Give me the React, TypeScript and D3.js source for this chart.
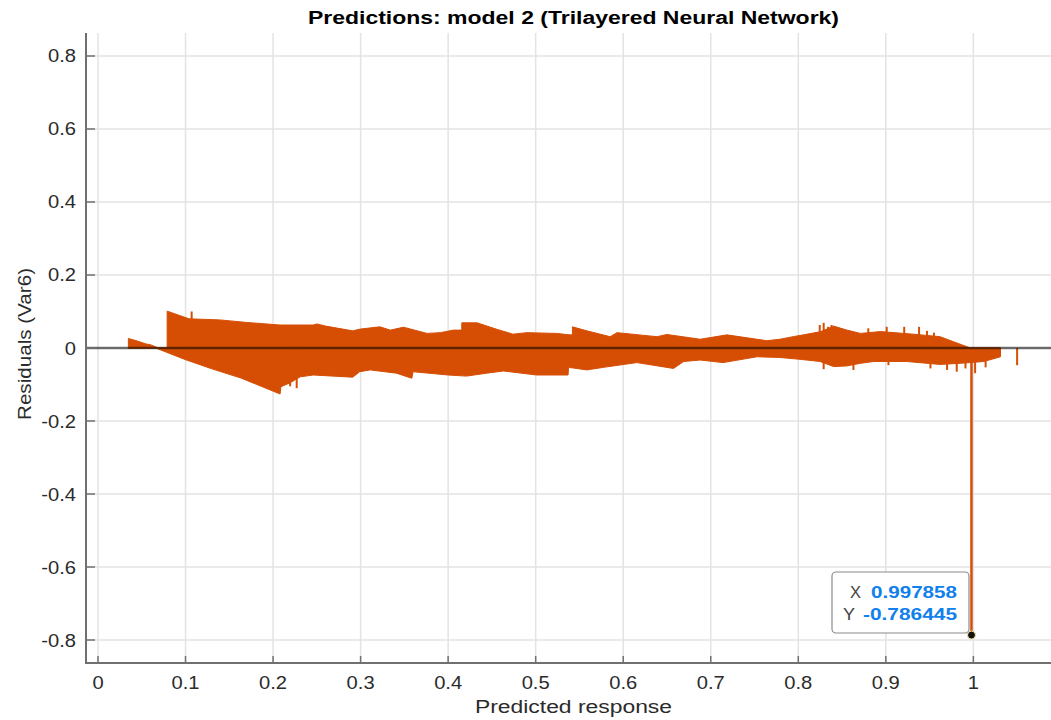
import React from "react";
import * as d3 from "d3";

// ---- data ----
const xTicks = [0, 0.1, 0.2, 0.3, 0.4, 0.5, 0.6, 0.7, 0.8, 0.9, 1];
const yTicks = [-0.8, -0.6, -0.4, -0.2, 0, 0.2, 0.4, 0.6, 0.8];

// upper envelope of positive residual stems: [predicted, residual]
const upperEnvelope: [number, number][] = [
  [0.0347, 0.026], [0.045, 0.019], [0.055, 0.011], [0.06, 0.009], [0.069, 0.0], [0.079, 0.0],
  [0.079, 0.101], [0.104, 0.08], [0.139, 0.077], [0.17, 0.07], [0.208, 0.063], [0.246, 0.063],
  [0.25, 0.066], [0.26, 0.06], [0.291, 0.047], [0.3, 0.052], [0.322, 0.058], [0.334, 0.049],
  [0.349, 0.057], [0.376, 0.04], [0.391, 0.042], [0.406, 0.049], [0.4156, 0.049], [0.4156, 0.069],
  [0.433, 0.069], [0.456, 0.051], [0.474, 0.038], [0.49, 0.042], [0.524, 0.04], [0.539, 0.036],
  [0.542, 0.036], [0.542, 0.058], [0.5585, 0.047], [0.585, 0.031], [0.593, 0.042], [0.6385, 0.031],
  [0.65, 0.037], [0.688, 0.024], [0.7185, 0.036], [0.764, 0.02], [0.779, 0.024], [0.794, 0.031],
  [0.806, 0.036], [0.826, 0.045], [0.8403, 0.06], [0.8556, 0.049], [0.871, 0.04], [0.894, 0.045],
  [0.931, 0.038], [0.962, 0.031], [0.9775, 0.017], [0.9966, 0.0], [1.031, 0.0],
];

// lower envelope of negative residual stems
const lowerEnvelope: [number, number][] = [
  [0.0347, 0], [0.066, 0], [0.1, -0.032], [0.13, -0.057], [0.163, -0.082], [0.208, -0.126],
  [0.209, -0.106], [0.219, -0.096], [0.231, -0.079], [0.246, -0.074], [0.291, -0.08], [0.299, -0.065],
  [0.311, -0.06], [0.341, -0.069], [0.3585, -0.083], [0.36, -0.065], [0.4, -0.074], [0.421, -0.077],
  [0.444, -0.069], [0.463, -0.063], [0.501, -0.074], [0.537, -0.074], [0.5375, -0.053], [0.5585, -0.06],
  [0.5775, -0.053], [0.6156, -0.04], [0.6575, -0.056], [0.669, -0.037], [0.688, -0.033], [0.714, -0.04],
  [0.753, -0.024], [0.779, -0.026], [0.802, -0.031], [0.825, -0.037], [0.8403, -0.051], [0.8556, -0.049],
  [0.871, -0.042], [0.886, -0.037], [0.924, -0.037], [0.962, -0.045], [0.985, -0.042], [1.012, -0.037],
  [1.031, -0.024],
];

// individual stems that stick out of the band
const spikes: [number, number][] = [
  [0.107, 0.1], [0.8245, 0.063], [0.829, 0.069], [0.834, 0.058], [0.838, 0.063], [0.88, 0.054],
  [0.901, 0.058], [0.921, 0.058], [0.938, 0.058], [0.947, 0.047], [0.955, 0.042],
  [0.2195, -0.105], [0.227, -0.11], [0.829, -0.058], [0.863, -0.06], [0.903, -0.047], [0.951, -0.056],
  [0.97, -0.06], [0.981, -0.065], [0.991, -0.056], [1.002, -0.069], [1.014, -0.053], [1.05, -0.047],
];

const outlier: [number, number] = [0.997858, -0.786445];

const title = "Predictions: model 2 (Trilayered Neural Network)";
const xLabel = "Predicted response";
const yLabel = "Residuals (Var6)";

// ---- styles ----
const ORANGE = "#D64E04";
const GRID = "#e3e3e3";
const AXIS = "#707070";
const TEXT = "#2b2b2b";
const FONT = "'Liberation Sans', Arial, Helvetica, sans-serif";

export default function App() {
  const W = 1051;
  const H = 720;
  const left = 86, right = 1051, top = 33, bottom = 663;
  const x = d3.scaleLinear().domain([-0.0137, 1.0887]).range([left, right]);
  const y = d3.scaleLinear().domain([-0.863, 0.863]).range([bottom, top]);

  const area = d3
    .area<[number, number]>()
    .x((d) => x(d[0]))
    .y0(y(0))
    .y1((d) => y(d[1]));

  const fmt = (v: number) => String(Number(v.toFixed(1)));

  return (
    <svg
      width={W}
      height={H}
      style={{ position: "absolute", left: 0, top: 0, background: "#fff" }}
      fontFamily={FONT}
    >
      <defs>
        <clipPath id="plotClip">
          <rect x={left} y={top} width={right - left} height={bottom - top} />
        </clipPath>
      </defs>
      <rect x={0} y={0} width={W} height={H} fill="#fff" />

      {/* grid */}
      {xTicks.map((t) => (
        <line key={"gx" + t} x1={x(t)} x2={x(t)} y1={top} y2={bottom} stroke={GRID} strokeWidth={1.5} />
      ))}
      {yTicks.map((t) => (
        <line key={"gy" + t} x1={left} x2={right} y1={y(t)} y2={y(t)} stroke={GRID} strokeWidth={1.5} />
      ))}

      {/* data */}
      <g clipPath="url(#plotClip)">
        <path d={area(upperEnvelope) || ""} fill={ORANGE} stroke={ORANGE} strokeWidth={1} />
        <path d={area(lowerEnvelope) || ""} fill={ORANGE} stroke={ORANGE} strokeWidth={1} />
        {spikes.map((s, i) => (
          <line key={"s" + i} x1={x(s[0])} x2={x(s[0])} y1={y(0)} y2={y(s[1])} stroke={ORANGE} strokeWidth={2} />
        ))}
        <line x1={x(outlier[0])} x2={x(outlier[0])} y1={y(0)} y2={y(outlier[1])} stroke={ORANGE} strokeWidth={2.5} />
        <line x1={left} x2={right} y1={y(0)} y2={y(0)} stroke="#000" strokeOpacity={0.55} strokeWidth={2.3} />
      </g>

      {/* axes */}
      <line x1={left} x2={left} y1={top} y2={bottom + 1} stroke={AXIS} strokeWidth={2} />
      <line x1={left - 1} x2={right} y1={bottom} y2={bottom} stroke={AXIS} strokeWidth={2} />
      {xTicks.map((t) => (
        <g key={"tx" + t}>
          <line x1={x(t)} x2={x(t)} y1={bottom} y2={bottom - 7} stroke={AXIS} strokeWidth={1.5} />
          <text
            transform={`translate(${x(t)},689) scale(1.12,1)`}
            textAnchor="middle"
            fontSize={18}
            fill={TEXT}
          >
            {fmt(t)}
          </text>
        </g>
      ))}
      {yTicks.map((t) => (
        <g key={"ty" + t}>
          <line x1={left} x2={left + 9} y1={y(t)} y2={y(t)} stroke={AXIS} strokeWidth={1.5} />
          <text
            transform={`translate(76,${y(t) + 6.5}) scale(1.12,1)`}
            textAnchor="end"
            fontSize={18}
            fill={TEXT}
          >
            {fmt(t)}
          </text>
        </g>
      ))}

      {/* labels */}
      <text x={308} y={24} fontSize={18} fontWeight="bold" fill="#000" textLength={531} lengthAdjust="spacingAndGlyphs">
        {title}
      </text>
      <text x={475} y={713} fontSize={18} fill={TEXT} textLength={197} lengthAdjust="spacingAndGlyphs">
        {xLabel}
      </text>
      <text
        transform="translate(31,420) rotate(-90)"
        fontSize={18}
        fill={TEXT}
        textLength={152}
        lengthAdjust="spacingAndGlyphs"
      >
        {yLabel}
      </text>

      {/* data tip */}
      <rect x={832} y={572} width={137} height={61} rx={4} fill="#fff" fillOpacity={0.95} stroke="#8a8a8a" strokeWidth={1.2} />
      <text x={850} y={598} fontSize={17} fill="#444" textLength={11} lengthAdjust="spacingAndGlyphs">X</text>
      <text x={871} y={598} fontSize={17} fontWeight="bold" fill="#0f80ec" textLength={86} lengthAdjust="spacingAndGlyphs">
        {outlier[0].toFixed(6)}
      </text>
      <text x={843} y={620} fontSize={17} fill="#444" textLength={12} lengthAdjust="spacingAndGlyphs">Y</text>
      <text x={863} y={620} fontSize={17} fontWeight="bold" fill="#0f80ec" textLength={94} lengthAdjust="spacingAndGlyphs">
        {outlier[1].toFixed(6)}
      </text>
      <circle cx={x(outlier[0])} cy={y(outlier[1])} r={4} fill="#111" stroke="#f3e9a0" strokeWidth={1} />
    </svg>
  );
}
